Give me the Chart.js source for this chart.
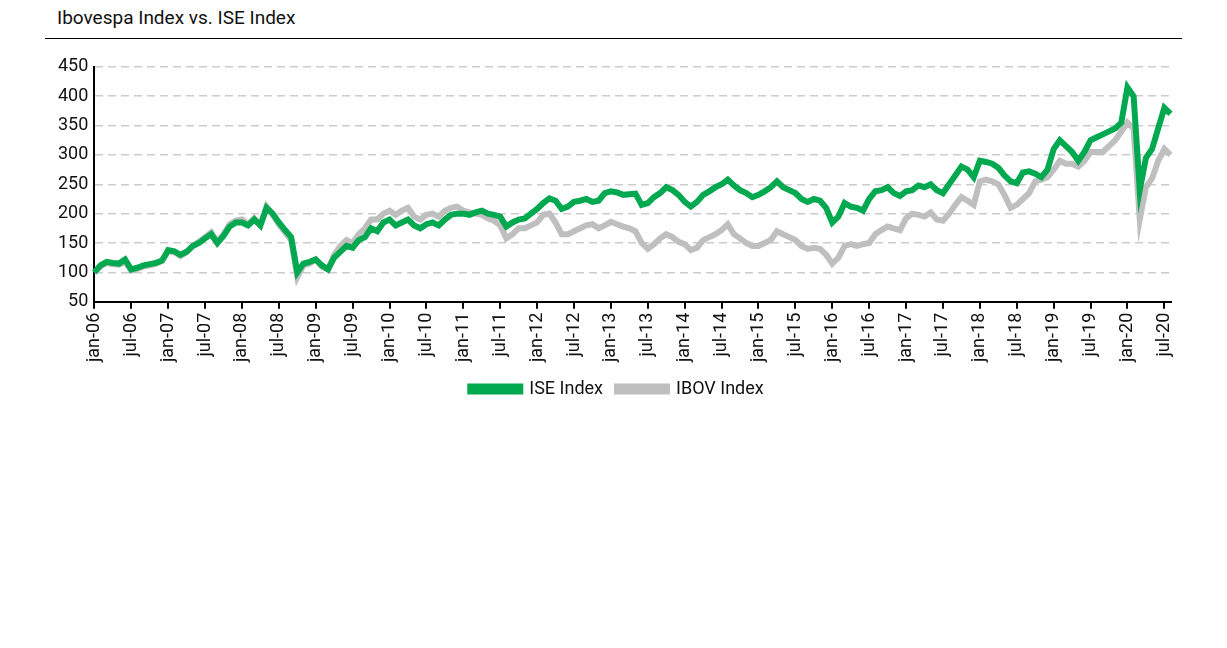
<!DOCTYPE html>
<html>
<head>
<meta charset="utf-8">
<script src="https://cdn.jsdelivr.net/npm/chart.js@4.4.1/dist/chart.umd.min.js"></script>
<style>
  body { margin: 0; background: #fff; font-family: Roboto, "Liberation Sans", sans-serif; }
  #title { position: absolute; left: 57px; top: 6px; font-size: 19px; color: #111; }
  #rule { position: absolute; left: 45px; top: 38px; width: 1137px; height: 1px; background: #000; }
  #wrap { position: absolute; left: 40px; top: 50px; width: 1150px; height: 358px; }
</style>
</head>
<body>
<div id="title">Ibovespa Index vs. ISE Index</div>
<div id="rule"></div>
<div id="wrap"><canvas id="chart"></canvas></div>
<script>
const months = ["jan", "feb", "mar", "apr", "may", "jun", "jul", "aug", "sep", "oct", "nov", "dec"];
const labels = [];
for (let y = 6; y <= 20; y++) {
  for (let m = 0; m < 12; m++) {
    if (y === 20 && m > 7) break;
    labels.push(months[m] + "-" + String(y).padStart(2, "0"));
  }
}

const iseIndex = [
  100, 112, 118, 116, 115, 122, 105, 108, 112, 114, 116, 120,
  138, 136, 130, 135, 145, 150, 158, 165, 150, 162, 178, 185,
  185, 180, 190, 180, 210, 200, 185, 172, 160, 100, 115, 118,
  122, 112, 105, 125, 135, 145, 142, 155, 160, 175, 170, 185,
  190, 180, 185, 190, 180, 175, 182, 185, 180, 190, 198, 200,
  200, 198, 202, 205, 200, 198, 195, 178, 185, 190, 192, 200,
  208, 218, 226, 222, 208, 212, 220, 222, 225, 220, 222, 235,
  238, 236, 232, 233, 234, 215, 218, 228, 235, 245, 240, 232,
  220, 212, 220, 232, 238, 245, 250, 258, 248, 240, 235, 228,
  232, 238, 245, 255, 245, 240, 235, 225, 220, 225, 222, 210,
  185, 195, 218, 212, 210, 205, 225, 238, 240, 245, 235, 230,
  238, 240, 248, 245, 250, 240, 235, 250, 265, 280, 275, 262,
  290, 288, 285, 278, 265, 255, 252, 270, 272, 268, 262, 275,
  310, 325, 315, 305, 290, 305, 325, 330, 335, 340, 345, 355,
  415, 400, 240, 295, 310, 345, 380, 370
];

const ibovIndex = [
  100, 110, 116, 114, 113, 118, 103, 106, 110, 112, 115, 120,
  136, 134, 128, 134, 145, 152, 160, 168, 152, 165, 182, 188,
  190, 182, 192, 180, 212, 198, 182, 168, 155, 92, 112, 115,
  122, 110, 105, 130, 145, 155, 150, 165, 175, 190, 190, 200,
  205, 198, 205, 210, 195, 190, 198, 200, 195, 205, 210, 212,
  205, 202, 200, 198, 192, 188, 180, 158, 165, 175, 175, 180,
  185, 198, 200, 185, 165, 165, 170, 175, 180, 182, 175, 180,
  186, 182, 178, 175, 170, 150, 140, 148, 158, 165, 160, 152,
  148, 138, 142, 155, 160, 165, 172, 182, 165, 158, 150, 145,
  145, 150, 155, 170, 165, 160, 155, 145, 140, 142, 140, 130,
  115, 125, 145, 148, 145, 148, 150, 165, 172, 178, 175, 172,
  192, 200, 198, 195, 202, 190, 188, 200, 215, 228, 222, 215,
  255, 258, 255, 250, 232, 210, 215, 225, 235, 255, 258, 262,
  275, 290, 285, 285, 280, 290, 305, 305, 305, 315, 325, 340,
  355, 345, 190, 245, 260, 290, 310, 300
];

const yTicks = [50, 100, 150, 200, 250, 300, 350, 400, 450];

new Chart(document.getElementById("chart"), {
  type: "line",
  data: {
    labels: labels,
    datasets: [
      {
        label: "IBOV Index",
        data: ibovIndex,
        borderColor: "#bfbfbf",
        backgroundColor: "#bfbfbf",
        borderWidth: 6,
        pointRadius: 0,
        tension: 0,
        order: 2
      },
      {
        label: "ISE Index",
        data: iseIndex,
        borderColor: "#00a84f",
        backgroundColor: "#00a84f",
        borderWidth: 6,
        pointRadius: 0,
        tension: 0,
        order: 1
      }
    ]
  },
  options: {
    responsive: true,
    maintainAspectRatio: false,
    animation: false,
    layout: { padding: { left: 12, right: 8 } },
    plugins: {
      legend: {
        position: "bottom",
        labels: {
          boxWidth: 50,
          boxHeight: 5,
          padding: 14,
          color: "#111",
          font: { size: 18, family: "Roboto" }
        }
      },
      tooltip: { enabled: false }
    },
    scales: {
      x: {
        offset: false,
        afterBuildTicks: (scale) => {
          scale.ticks = scale.ticks.filter((t) => t.value % 6 === 0);
        },
        ticks: {
          autoSkip: false,
          maxRotation: 90,
          minRotation: 90,
          color: "#111",
          padding: 4,
          font: { size: 18, family: "Roboto" },
          callback: (v) => labels[v]
        },
        grid: { drawOnChartArea: false, color: "#000", tickLength: 7, lineWidth: 2 },
        border: { color: "#000", width: 2 }
      },
      y: {
        min: 50,
        max: 450,
        afterBuildTicks: (scale) => {
          scale.ticks = yTicks.map((v) => ({ value: v }));
        },
        ticks: {
          color: "#111",
          font: { size: 18, family: "Roboto" },
          padding: 6
        },
        grid: { color: "#cccccc", lineWidth: 1.5, drawTicks: false },
        border: { color: "#000", width: 2, dash: [8, 5] }
      }
    }
  }
});
</script>
</body>
</html>
